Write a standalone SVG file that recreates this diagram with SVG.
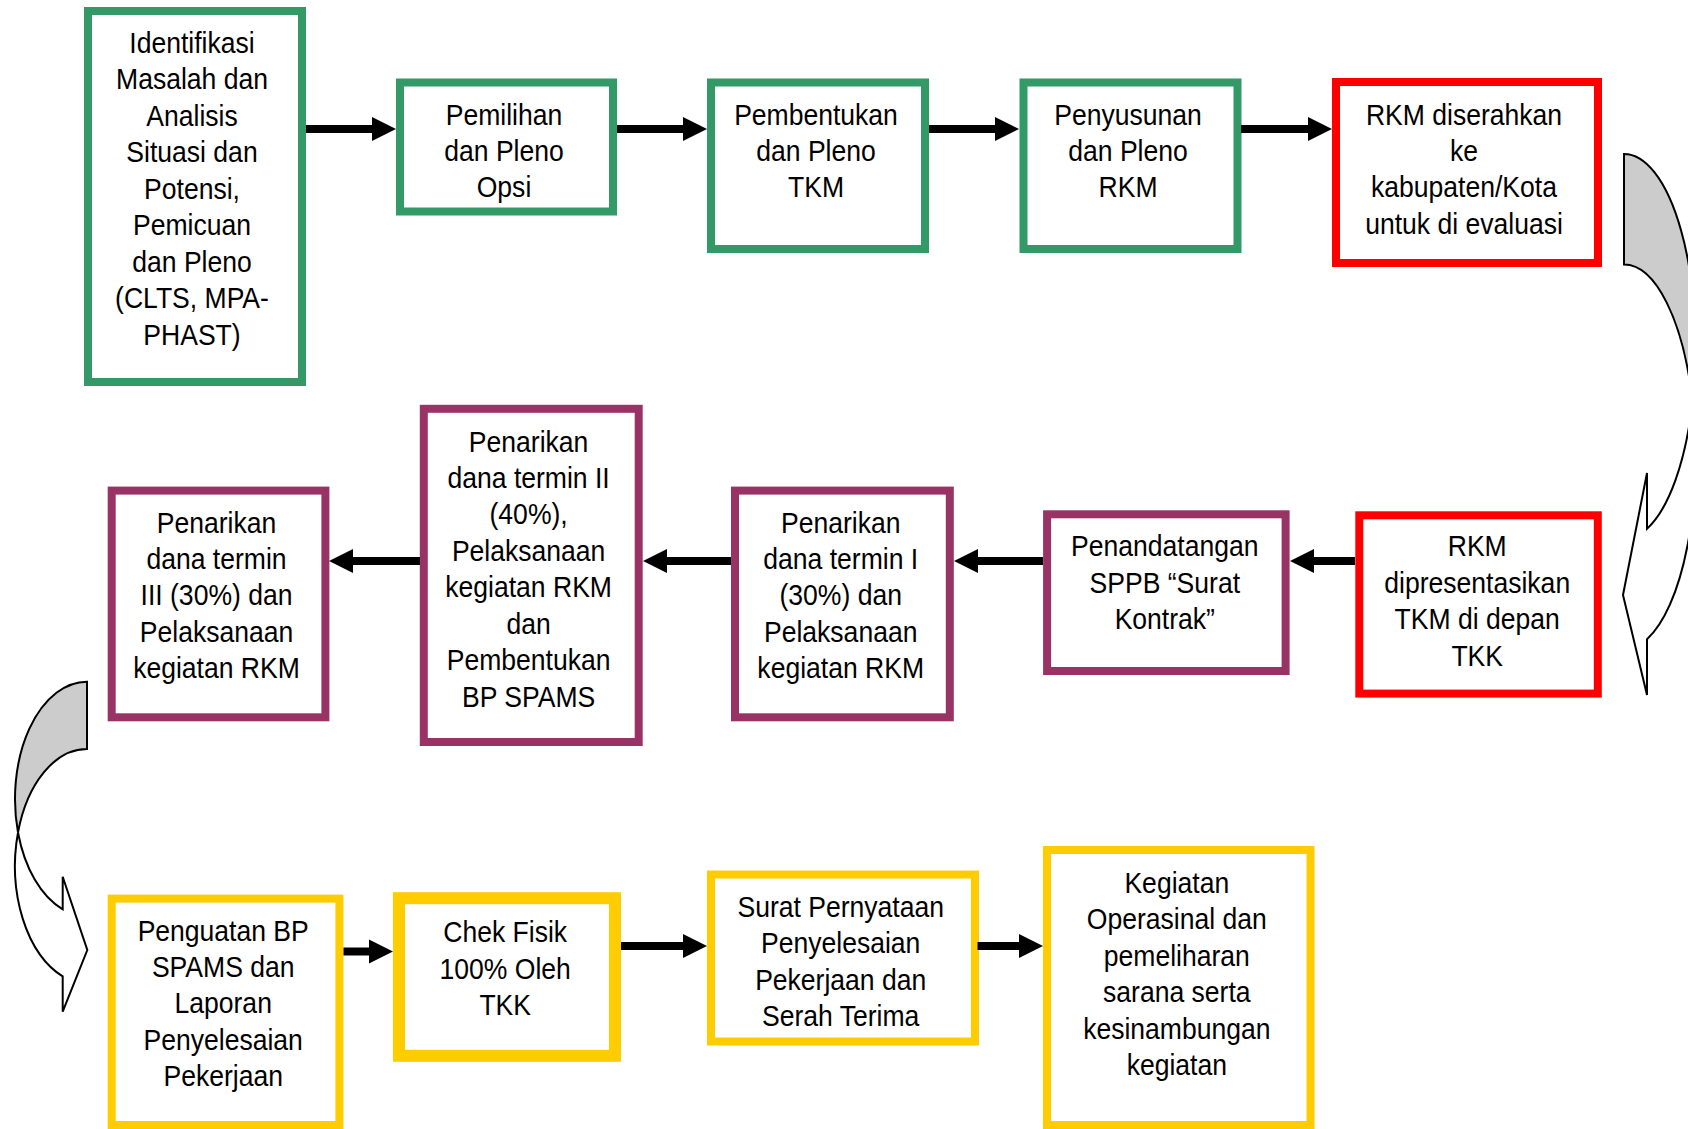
<svg xmlns="http://www.w3.org/2000/svg" width="1688" height="1129" viewBox="0 0 1688 1129">
  <style>
    .box { fill: #ffffff; stroke-width: 8; }
    .green { stroke: #339966; }
    .red { stroke: #ff0000; }
    .purple { stroke: #993366; }
    .yellow { stroke: #ffcc00; }
    .lbl { font-family: "Liberation Sans", Arial, sans-serif; font-size: 29.5px; fill: #000000; text-anchor: middle; }
    .conn { fill: none; stroke: #000000; stroke-width: 8; marker-end: url(#head); }
    .curve { stroke: #000000; stroke-width: 2; stroke-linejoin: miter; }
    .back { fill: #cccccc; }
    .front { fill: #ffffff; }
  </style>
  <defs>
    <marker id="head" markerUnits="userSpaceOnUse" markerWidth="26" markerHeight="26" viewBox="0 -13 26 26" refX="0" refY="0" orient="auto" overflow="visible">
      <path d="M0,-12 L24,0 L0,12 Z" fill="#000000"/>
    </marker>
  </defs>

  <rect width="1688" height="1129" fill="#ffffff"/>

  <!-- Row 1 -->
  <g id="n1">
    <rect class="box green" x="88" y="11" width="214" height="371"/>
    <text class="lbl" transform="translate(192,53) scale(0.9,1)"><tspan x="0" y="0">Identifikasi</tspan><tspan x="0" y="36.5">Masalah dan</tspan><tspan x="0" y="73">Analisis</tspan><tspan x="0" y="109.5">Situasi dan</tspan><tspan x="0" y="146">Potensi,</tspan><tspan x="0" y="182.5">Pemicuan</tspan><tspan x="0" y="219">dan Pleno</tspan><tspan x="0" y="255.5">(CLTS, MPA-</tspan><tspan x="0" y="292">PHAST)</tspan></text>
  </g>
  <g id="n2">
    <rect class="box green" x="400" y="82.5" width="213" height="129"/>
    <text class="lbl" transform="translate(504,124.5) scale(0.9,1)"><tspan x="0" y="0">Pemilihan</tspan><tspan x="0" y="36.5">dan Pleno</tspan><tspan x="0" y="73">Opsi</tspan></text>
  </g>
  <g id="n3">
    <rect class="box green" x="711" y="82.5" width="214" height="166.5"/>
    <text class="lbl" transform="translate(816,124.5) scale(0.9,1)"><tspan x="0" y="0">Pembentukan</tspan><tspan x="0" y="36.5">dan Pleno</tspan><tspan x="0" y="73">TKM</tspan></text>
  </g>
  <g id="n4">
    <rect class="box green" x="1023.5" y="82.5" width="214" height="166.5"/>
    <text class="lbl" transform="translate(1128,124.5) scale(0.9,1)"><tspan x="0" y="0">Penyusunan</tspan><tspan x="0" y="36.5">dan Pleno</tspan><tspan x="0" y="73">RKM</tspan></text>
  </g>
  <g id="n5">
    <rect class="box red" x="1336" y="82" width="262" height="181"/>
    <text class="lbl" transform="translate(1464,124.5) scale(0.9,1)"><tspan x="0" y="0">RKM diserahkan</tspan><tspan x="0" y="36.5">ke</tspan><tspan x="0" y="73">kabupaten/Kota</tspan><tspan x="0" y="109.5">untuk di evaluasi</tspan></text>
  </g>

  <!-- Row 2 -->
  <g id="n6">
    <rect class="box purple" x="111.7" y="490.6" width="213.7" height="226.7"/>
    <text class="lbl" transform="translate(216.5,532.5) scale(0.9,1)"><tspan x="0" y="0">Penarikan</tspan><tspan x="0" y="36.5">dana termin</tspan><tspan x="0" y="73">III (30%) dan</tspan><tspan x="0" y="109.5">Pelaksanaan</tspan><tspan x="0" y="146">kegiatan RKM</tspan></text>
  </g>
  <g id="n7">
    <rect class="box purple" x="423.8" y="408.8" width="214.9" height="333.2"/>
    <text class="lbl" transform="translate(528.6,451.5) scale(0.9,1)"><tspan x="0" y="0">Penarikan</tspan><tspan x="0" y="36.5">dana termin II</tspan><tspan x="0" y="73">(40%),</tspan><tspan x="0" y="109.5">Pelaksanaan</tspan><tspan x="0" y="146">kegiatan RKM</tspan><tspan x="0" y="182.5">dan</tspan><tspan x="0" y="219">Pembentukan</tspan><tspan x="0" y="255.5">BP SPAMS</tspan></text>
  </g>
  <g id="n8">
    <rect class="box purple" x="735" y="490.6" width="214.8" height="226.7"/>
    <text class="lbl" transform="translate(840.7,532.5) scale(0.9,1)"><tspan x="0" y="0">Penarikan</tspan><tspan x="0" y="36.5">dana termin I</tspan><tspan x="0" y="73">(30%) dan</tspan><tspan x="0" y="109.5">Pelaksanaan</tspan><tspan x="0" y="146">kegiatan RKM</tspan></text>
  </g>
  <g id="n9">
    <rect class="box purple" x="1047.1" y="514.3" width="238.5" height="156.7"/>
    <text class="lbl" transform="translate(1164.8,556.4) scale(0.9,1)"><tspan x="0" y="0">Penandatangan</tspan><tspan x="0" y="36.5">SPPB “Surat</tspan><tspan x="0" y="73">Kontrak”</tspan></text>
  </g>
  <g id="n10">
    <rect class="box red" x="1359.3" y="515.3" width="238.5" height="178.3"/>
    <text class="lbl" transform="translate(1477.2,556.4) scale(0.9,1)"><tspan x="0" y="0">RKM</tspan><tspan x="0" y="36.5">dipresentasikan</tspan><tspan x="0" y="73">TKM di depan</tspan><tspan x="0" y="109.5">TKK</tspan></text>
  </g>

  <!-- Row 3 -->
  <g id="n11">
    <rect class="box yellow" x="111.7" y="898.6" width="227.7" height="226.4"/>
    <text class="lbl" transform="translate(223.2,940.5) scale(0.9,1)"><tspan x="0" y="0">Penguatan BP</tspan><tspan x="0" y="36.5">SPAMS dan</tspan><tspan x="0" y="73">Laporan</tspan><tspan x="0" y="109.5">Penyelesaian</tspan><tspan x="0" y="146">Pekerjaan</tspan></text>
  </g>
  <g id="n12">
    <rect class="box yellow" x="399" y="898.2" width="216" height="157.6" style="stroke-width:12"/>
    <text class="lbl" transform="translate(505.2,942.2) scale(0.9,1)"><tspan x="0" y="0">Chek Fisik</tspan><tspan x="0" y="36.5">100% Oleh</tspan><tspan x="0" y="73">TKK</tspan></text>
  </g>
  <g id="n13">
    <rect class="box yellow" x="711" y="874.5" width="264" height="167"/>
    <text class="lbl" transform="translate(840.7,917) scale(0.9,1)"><tspan x="0" y="0">Surat Pernyataan</tspan><tspan x="0" y="36.5">Penyelesaian</tspan><tspan x="0" y="73">Pekerjaan dan</tspan><tspan x="0" y="109.5">Serah Terima</tspan></text>
  </g>
  <g id="n14">
    <rect class="box yellow" x="1047" y="850" width="263.5" height="275"/>
    <text class="lbl" transform="translate(1176.8,893) scale(0.9,1)"><tspan x="0" y="0">Kegiatan</tspan><tspan x="0" y="36.5">Operasinal dan</tspan><tspan x="0" y="73">pemeliharan</tspan><tspan x="0" y="109.5">sarana serta</tspan><tspan x="0" y="146">kesinambungan</tspan><tspan x="0" y="182.5">kegiatan</tspan></text>
  </g>

  <!-- Connectors -->
  <g id="connectors">
    <path class="conn" d="M306,129 H372"/>
    <path class="conn" d="M617,129 H683"/>
    <path class="conn" d="M929,129 H995"/>
    <path class="conn" d="M1241,129 H1308"/>

    <path class="conn" d="M1355,561 H1314"/>
    <path class="conn" d="M1043,561 H978"/>
    <path class="conn" d="M731,561 H667"/>
    <path class="conn" d="M420,561 H353"/>

    <path class="conn" d="M343.5,951.5 H369"/>
    <path class="conn" d="M621,946 H683"/>
    <path class="conn" d="M977.5,946 H1019"/>

    <!-- curved turn arrow on the right: row 1 to row 2 -->
    <g id="turn-right">
      <path class="curve back" d="M1624,154 A71.5,192.5 0 0 1 1692.5,401.75 A71.5,192.5 0 0 0 1624,264.5 Z"/>
      <path class="curve front" d="M1692.5,401.75 A71.5,192.5 0 0 1 1647,528.8 L1647,473 L1623,595 L1647,695 L1647,639.3 A71.5,192.5 0 0 0 1692.5,401.75 Z"/>
    </g>
    <!-- curved turn arrow on the left: row 2 to row 3 -->
    <g id="turn-left">
      <path class="curve back" d="M87,681.7 A72,117.3 0 0 0 18,832.5 A72,117.3 0 0 1 87,749 Z"/>
      <path class="curve front" d="M18,832.5 A72,117.3 0 0 0 62.7,976.3 L62.7,1011.7 L87.3,950 L62.7,876.7 L62.7,909.3 A72,117.3 0 0 1 18,832.5 Z"/>
    </g>
  </g>
</svg>
